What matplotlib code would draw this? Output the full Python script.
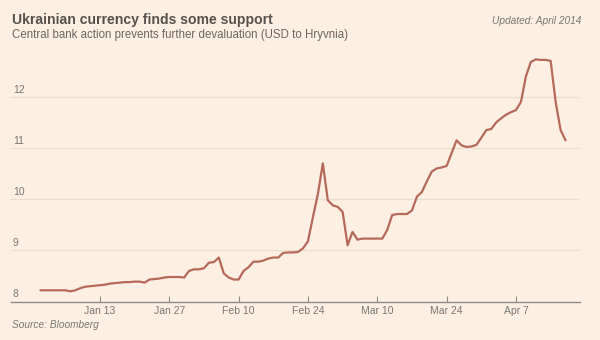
import matplotlib
matplotlib.use('Agg')
import matplotlib.pyplot as plt
import pandas as pd

# Daily USD to hryvnia rate, starting 1 Jan 2014
start_date = '2014-01-01'
usd_uah = [
    8.22, 8.22, 8.22, 8.22, 8.22, 8.22, 8.20, 8.22, 8.26, 8.29,
    8.30, 8.31, 8.32, 8.33, 8.35, 8.36, 8.37, 8.38, 8.38, 8.39,
    8.39, 8.37, 8.43, 8.44, 8.45, 8.47, 8.48, 8.48, 8.48, 8.47,
    8.60, 8.63, 8.63, 8.65, 8.76, 8.77, 8.86, 8.55, 8.47, 8.43,
    8.43, 8.60, 8.67, 8.78, 8.78, 8.80, 8.84, 8.86, 8.86, 8.95,
    8.96, 8.96, 8.97, 9.04, 9.18, 9.65, 10.10, 10.70, 9.98, 9.88,
    9.85, 9.75, 9.10, 9.36, 9.21, 9.23, 9.23, 9.23, 9.23, 9.23,
    9.40, 9.69, 9.71, 9.71, 9.71, 9.78, 10.05, 10.14, 10.35, 10.54,
    10.60, 10.62, 10.65, 10.90, 11.15, 11.05, 11.02, 11.03, 11.06, 11.20,
    11.35, 11.37, 11.50, 11.58, 11.65, 11.70, 11.74, 11.90, 12.40, 12.68,
    12.73, 12.72, 12.72, 12.70, 11.90, 11.35, 11.15,
]

tick_dates = ['2014-01-13', '2014-01-27', '2014-02-10', '2014-02-24',
              '2014-03-10', '2014-03-24', '2014-04-07']
tick_labels = ['Jan 13', 'Jan 27', 'Feb 10', 'Feb 24', 'Mar 10', 'Mar 24', 'Apr 7']
y_ticks = [8, 9, 10, 11, 12]

bg = '#fdf0e2'
line_col = '#b5695a'
grid_col = '#ebdfd3'
axis_col = '#8e8a86'
text_col = '#7a7773'

plt.rcParams['font.family'] = ['Liberation Sans', 'DejaVu Sans']

dates = pd.date_range(start_date, periods=len(usd_uah), freq='D')

fig = plt.figure(figsize=(6, 3.4), dpi=100, facecolor=bg)
ax = fig.add_axes([0.019, 0.113, 0.948, 0.753])
ax.set_facecolor(bg)

for v in y_ticks[1:]:
    ax.axhline(v, color=grid_col, lw=0.9, zorder=0)

ax.plot(dates, usd_uah, color=line_col, lw=1.6,
        solid_joinstyle='round', solid_capstyle='round', zorder=3)

ax.set_xlim(pd.Timestamp('2013-12-26 03:00'), pd.Timestamp('2014-04-19 23:00'))
ax.set_ylim(8, 13)

for side in ['top', 'right', 'left']:
    ax.spines[side].set_visible(False)
ax.spines['bottom'].set_color(axis_col)
ax.spines['bottom'].set_linewidth(1.0)

ax.set_yticks([])
ax.set_xticks(pd.to_datetime(tick_dates))
ax.set_xticklabels(tick_labels)
ax.tick_params(axis='x', direction='in', length=4, width=0.8, color=axis_col,
               labelsize=7.5, labelcolor=text_col, pad=3)

# y labels sit just above their gridlines
for v in y_ticks:
    ax.annotate(str(v), xy=(0, v), xycoords=ax.get_yaxis_transform(),
                xytext=(1, 1.5), textcoords='offset points',
                ha='left', va='bottom', fontsize=7.5, color=text_col)

fig.text(12.5 / 600, 1 - 20 / 340, 'Ukrainian currency finds some support',
         fontsize=10.1, fontweight='bold', color='#55514d', ha='left', va='center')
fig.text(12.5 / 600, 1 - 35 / 340,
         'Central bank action prevents further devaluation (USD to Hryvnia)',
         fontsize=8.3, color='#6b6763', ha='left', va='center')
fig.text(581 / 600, 1 - 21 / 340, 'Updated: April 2014', fontsize=7.3,
         style='italic', color=text_col, ha='right', va='center')
fig.text(12.5 / 600, 1 - 325 / 340, 'Source: Bloomberg', fontsize=7.3,
         style='italic', color=text_col, ha='left', va='center')

fig.savefig('out.png', dpi=100, facecolor=bg)
